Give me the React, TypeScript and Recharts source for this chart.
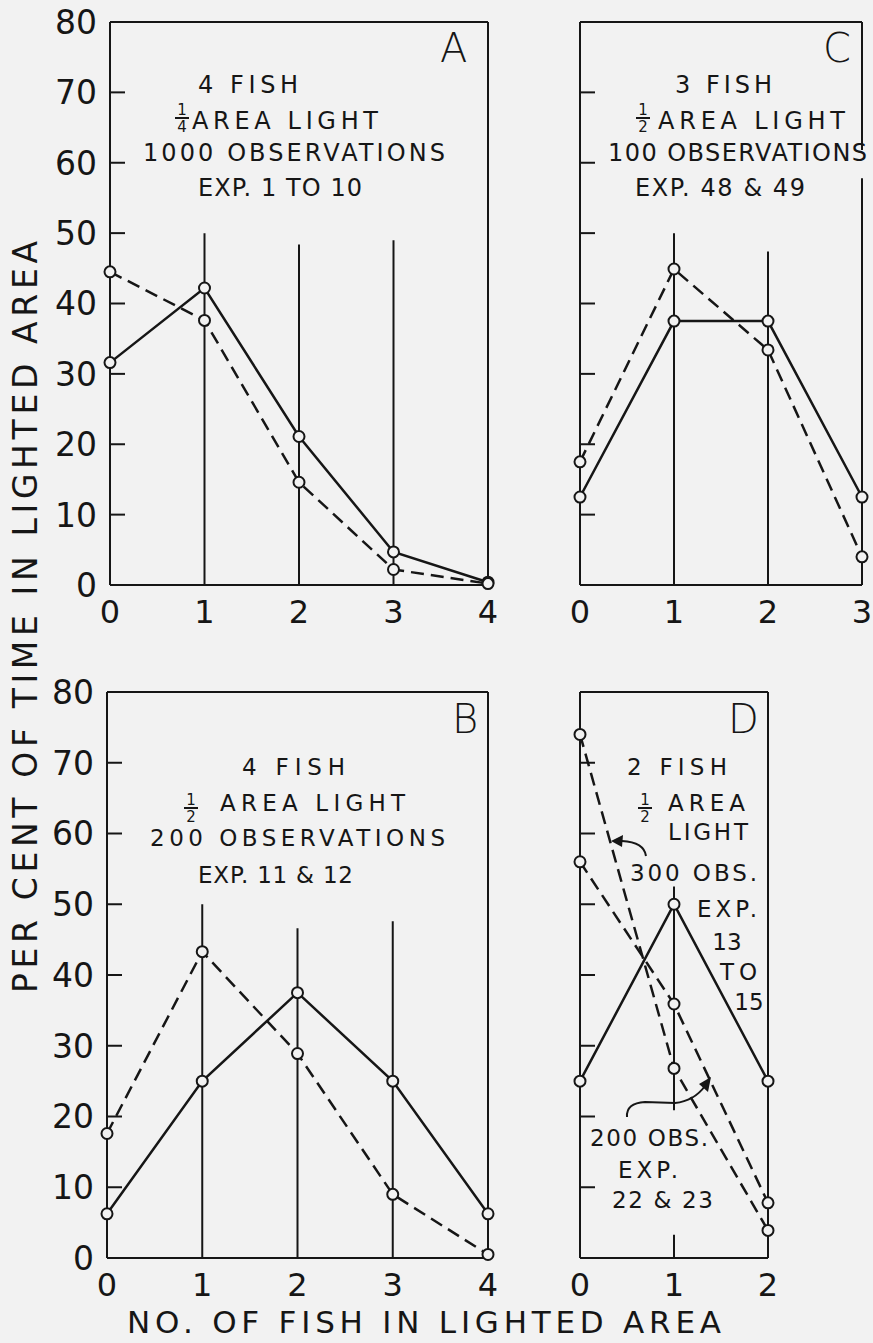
import React from 'react';
import { LineChart, Line, XAxis, YAxis, ReferenceLine } from 'recharts';

const INK = '#161616';
const BG = '#f2f2f2';
const FONT = '"DejaVu Sans", sans-serif';

const yTicks = [0, 10, 20, 30, 40, 50, 60, 70, 80];

// A: 4 fish, 1/4 area light, 1000 observations
const fishA = [0, 1, 2, 3, 4];
const observedA = [44.5, 37.6, 14.6, 2.2, 0.2];
const expectedA = [31.6, 42.2, 21.1, 4.7, 0.4];
const stemsA = [50, 48.4, 49];

// C: 3 fish, 1/2 area light, 100 observations
const fishC = [0, 1, 2, 3];
const observedC = [17.5, 44.9, 33.4, 4.0];
const expectedC = [12.5, 37.5, 37.5, 12.5];
const stemsC = [50, 47.4];

// B: 4 fish, 1/2 area light, 200 observations
const fishB = [0, 1, 2, 3, 4];
const observedB = [17.6, 43.3, 28.9, 9.0, 0.5];
const expectedB = [6.25, 25, 37.5, 25, 6.25];
const stemsB = [50, 46.6, 47.6];

// D: 2 fish, 1/2 area light, 300 obs and 200 obs
const fishD = [0, 1, 2];
const observedD300 = [74, 26.8, 3.9];
const observedD200 = [56, 35.9, 7.8];
const expectedD = [25, 50, 25];

type Seg = { x: number; y1: number; y2: number };
type Series = { values: number[]; dashed: boolean };

function stemSegs(stems: number[]): Seg[] {
  return stems.map((h, i) => ({ x: i + 1, y1: 0, y2: h }));
}

function YTick(props: any, showLabel: boolean) {
  const { x, y, payload } = props;
  const v = payload.value;
  return (
    <g>
      {v > 0 && v < 80 && <line x1={x} x2={x + 15} y1={y} y2={y} stroke={INK} strokeWidth={2} />}
      {showLabel && (
        <text x={x - 13} y={y} dy="0.36em" textAnchor="end" fontFamily={FONT} fontSize={33} fill={INK}>
          {v}
        </text>
      )}
    </g>
  );
}

function XTick(props: any) {
  const { x, y, payload } = props;
  return (
    <text x={x} y={y + 26} dy="0.36em" textAnchor="middle" fontFamily={FONT} fontSize={32} fill={INK}>
      {payload.value}
    </text>
  );
}

interface PanelProps {
  left: number;
  top: number;
  width: number;
  height: number;
  marginTop: number;
  marginRight: number;
  yAxisWidth: number;
  xAxisHeight: number;
  fish: number[];
  series: Series[];
  segs: Seg[];
  rightBorder: [number, number][];
  showYLabels: boolean;
}

function Panel(p: PanelProps) {
  const data = p.fish.map((f, i) => {
    const row: any = { x: f };
    p.series.forEach((s, k) => {
      row['s' + k] = s.values[i];
    });
    return row;
  });
  const xMax = p.fish[p.fish.length - 1];
  return (
    <div style={{ position: 'absolute', left: p.left, top: p.top }}>
      <LineChart
        width={p.width}
        height={p.height}
        data={data}
        margin={{ top: p.marginTop, right: p.marginRight, bottom: 0, left: 0 }}
      >
        <XAxis
          dataKey="x"
          type="number"
          domain={[0, xMax]}
          ticks={p.fish}
          height={p.xAxisHeight}
          tickSize={0}
          tickMargin={0}
          tickLine={false}
          axisLine={{ stroke: INK, strokeWidth: 2 }}
          tick={XTick}
          interval={0}
        />
        <YAxis
          type="number"
          domain={[0, 80]}
          ticks={yTicks}
          width={p.yAxisWidth}
          tickSize={0}
          tickMargin={0}
          tickLine={false}
          axisLine={{ stroke: INK, strokeWidth: 2 }}
          tick={(tp: any) => YTick(tp, p.showYLabels)}
          interval={0}
        />
        <ReferenceLine y={80} stroke={INK} strokeWidth={2} />
        {p.rightBorder.map(([a, b], i) => (
          <ReferenceLine
            key={'rb' + i}
            segment={[{ x: xMax, y: a }, { x: xMax, y: b }]}
            stroke={INK}
            strokeWidth={2}
          />
        ))}
        {p.segs.map((s, i) => (
          <ReferenceLine
            key={'st' + i}
            segment={[{ x: s.x, y: s.y1 }, { x: s.x, y: s.y2 }]}
            stroke={INK}
            strokeWidth={2}
          />
        ))}
        {p.series.map((s, k) => (
          <Line
            key={'s' + k}
            dataKey={'s' + k}
            type="linear"
            stroke={INK}
            strokeWidth={2.5}
            strokeDasharray={s.dashed ? '13 7' : undefined}
            dot={{ r: 5.5, fill: BG, stroke: INK, strokeWidth: 2, strokeDasharray: 'none' }}
            activeDot={false}
            isAnimationActive={false}
          />
        ))}
      </LineChart>
    </div>
  );
}

type Lbl = { t: string; x: number; y: number; len?: number; size?: number; anchor?: string; weight?: number };

const labels: Lbl[] = [
  // A
  { t: '4 FISH', x: 198, y: 93, len: 100 },
  { t: 'AREA LIGHT', x: 192, y: 128.5, len: 186 },
  { t: '1000 OBSERVATIONS', x: 143, y: 161, len: 302 },
  { t: 'EXP. 1 TO 10', x: 198, y: 196, len: 164 },
  { t: 'A', x: 440, y: 62, size: 40, weight: 300 },
  // C
  { t: '3 FISH', x: 675, y: 93, len: 97 },
  { t: 'AREA LIGHT', x: 658, y: 128.5, len: 187 },
  { t: '100 OBSERVATIONS', x: 608, y: 161, len: 259 },
  { t: 'EXP. 48 & 49', x: 635, y: 196, len: 170 },
  { t: 'C', x: 823, y: 62, size: 40, weight: 300 },
  // B
  { t: '4 FISH', x: 242, y: 774.5, len: 103, size: 23 },
  { t: 'AREA LIGHT', x: 220, y: 811, len: 185, size: 23 },
  { t: '200 OBSERVATIONS', x: 150, y: 846, len: 295, size: 23 },
  { t: 'EXP. 11 & 12', x: 198, y: 883, len: 155, size: 23 },
  { t: 'B', x: 452, y: 733, size: 40, weight: 300 },
  // D
  { t: '2 FISH', x: 627, y: 774.5, len: 100, size: 23 },
  { t: 'AREA', x: 668, y: 811, len: 77, size: 23 },
  { t: 'LIGHT', x: 668, y: 840, len: 80, size: 23 },
  { t: '300 OBS.', x: 630, y: 880.5, len: 127, size: 23 },
  { t: 'EXP.', x: 697, y: 917, len: 60, size: 23 },
  { t: '13', x: 727, y: 950, size: 23, anchor: 'middle' },
  { t: 'TO', x: 720, y: 980, len: 37, size: 23 },
  { t: '15', x: 749, y: 1010, size: 23, anchor: 'middle' },
  { t: '200 OBS.', x: 590, y: 1146, len: 118, size: 23 },
  { t: 'EXP.', x: 618, y: 1178, len: 60, size: 23 },
  { t: '22 & 23', x: 612, y: 1208, len: 101, size: 23 },
  { t: 'D', x: 728, y: 733, size: 40, weight: 300 },
  // bottom title
  { t: 'NO. OF FISH IN LIGHTED AREA', x: 127, y: 1333, len: 594, size: 31 },
];

// stacked fractions: numerator, denominator, centre x, bar y
const fractions: { n: string; d: string; x: number; y: number }[] = [
  { n: '1', d: '4', x: 182, y: 118 },
  { n: '1', d: '2', x: 643, y: 118 },
  { n: '1', d: '2', x: 191, y: 808 },
  { n: '1', d: '2', x: 645, y: 808 },
];

function Overlay() {
  return (
    <svg
      width={873}
      height={1343}
      style={{ position: 'absolute', left: 0, top: 0, pointerEvents: 'none' }}
    >
      {labels.map((l, i) => (
        <text
          key={i}
          x={l.x}
          y={l.y}
          fontFamily={FONT}
          fontSize={l.size || 24}
          fontWeight={l.weight || 400}
          fill={INK}
          textAnchor={l.anchor || 'start'}
          textLength={l.len}
          lengthAdjust={l.len ? 'spacing' : undefined}
        >
          {l.t}
        </text>
      ))}
      {fractions.map((f, i) => (
        <g key={'f' + i}>
          <text x={f.x} y={f.y - 3} textAnchor="middle" fontFamily={FONT} fontSize={15} fill={INK}>
            {f.n}
          </text>
          <line x1={f.x - 7} x2={f.x + 7} y1={f.y} y2={f.y} stroke={INK} strokeWidth={2} />
          <text x={f.x} y={f.y + 14} textAnchor="middle" fontFamily={FONT} fontSize={15} fill={INK}>
            {f.d}
          </text>
        </g>
      ))}
      <text
        transform="translate(37,617) rotate(-90)"
        textAnchor="middle"
        fontFamily={FONT}
        fontSize={33}
        fill={INK}
        textLength={752}
        lengthAdjust="spacing"
      >
        PER CENT OF TIME IN LIGHTED AREA
      </text>
      {/* pointer arrows in D */}
      <path d="M646 856 Q644 842 622 841" fill="none" stroke={INK} strokeWidth={2} />
      <polygon points="611,841 623,835 622,847" fill={INK} />
      <path d="M627 1117 Q626 1103 645 1102 L675 1103 Q694 1101 705 1086" fill="none" stroke={INK} strokeWidth={2} />
      <polygon points="711,1077 699,1084 708,1092" fill={INK} />
    </svg>
  );
}

export default function App() {
  return (
    <div
      style={{
        position: 'absolute',
        left: 0,
        top: 0,
        width: 873,
        height: 1343,
        background: BG,
        overflow: 'hidden',
      }}
    >
      <Panel
        left={0}
        top={0}
        width={500}
        height={645}
        marginTop={22}
        marginRight={12}
        yAxisWidth={110}
        xAxisHeight={60}
        fish={fishA}
        series={[
          { values: expectedA, dashed: false },
          { values: observedA, dashed: true },
        ]}
        segs={stemSegs(stemsA)}
        rightBorder={[[0, 80]]}
        showYLabels={true}
      />
      <Panel
        left={470}
        top={0}
        width={403}
        height={645}
        marginTop={22}
        marginRight={11}
        yAxisWidth={110}
        xAxisHeight={60}
        fish={fishC}
        series={[
          { values: expectedC, dashed: false },
          { values: observedC, dashed: true },
        ]}
        segs={stemSegs(stemsC)}
        rightBorder={[
          [0, 57.8],
          [61.8, 80],
        ]}
        showYLabels={false}
      />
      <Panel
        left={0}
        top={600}
        width={500}
        height={710}
        marginTop={92}
        marginRight={12}
        yAxisWidth={107}
        xAxisHeight={52}
        fish={fishB}
        series={[
          { values: expectedB, dashed: false },
          { values: observedB, dashed: true },
        ]}
        segs={stemSegs(stemsB)}
        rightBorder={[[0, 80]]}
        showYLabels={true}
      />
      <Panel
        left={470}
        top={600}
        width={403}
        height={710}
        marginTop={92}
        marginRight={105}
        yAxisWidth={110}
        xAxisHeight={52}
        fish={fishD}
        series={[
          { values: expectedD, dashed: false },
          { values: observedD300, dashed: true },
          { values: observedD200, dashed: true },
        ]}
        segs={[
          { x: 1, y1: 0, y2: 3.3 },
          { x: 1, y1: 20.9, y2: 52.5 },
        ]}
        rightBorder={[[0, 80]]}
        showYLabels={false}
      />
      <Overlay />
    </div>
  );
}
